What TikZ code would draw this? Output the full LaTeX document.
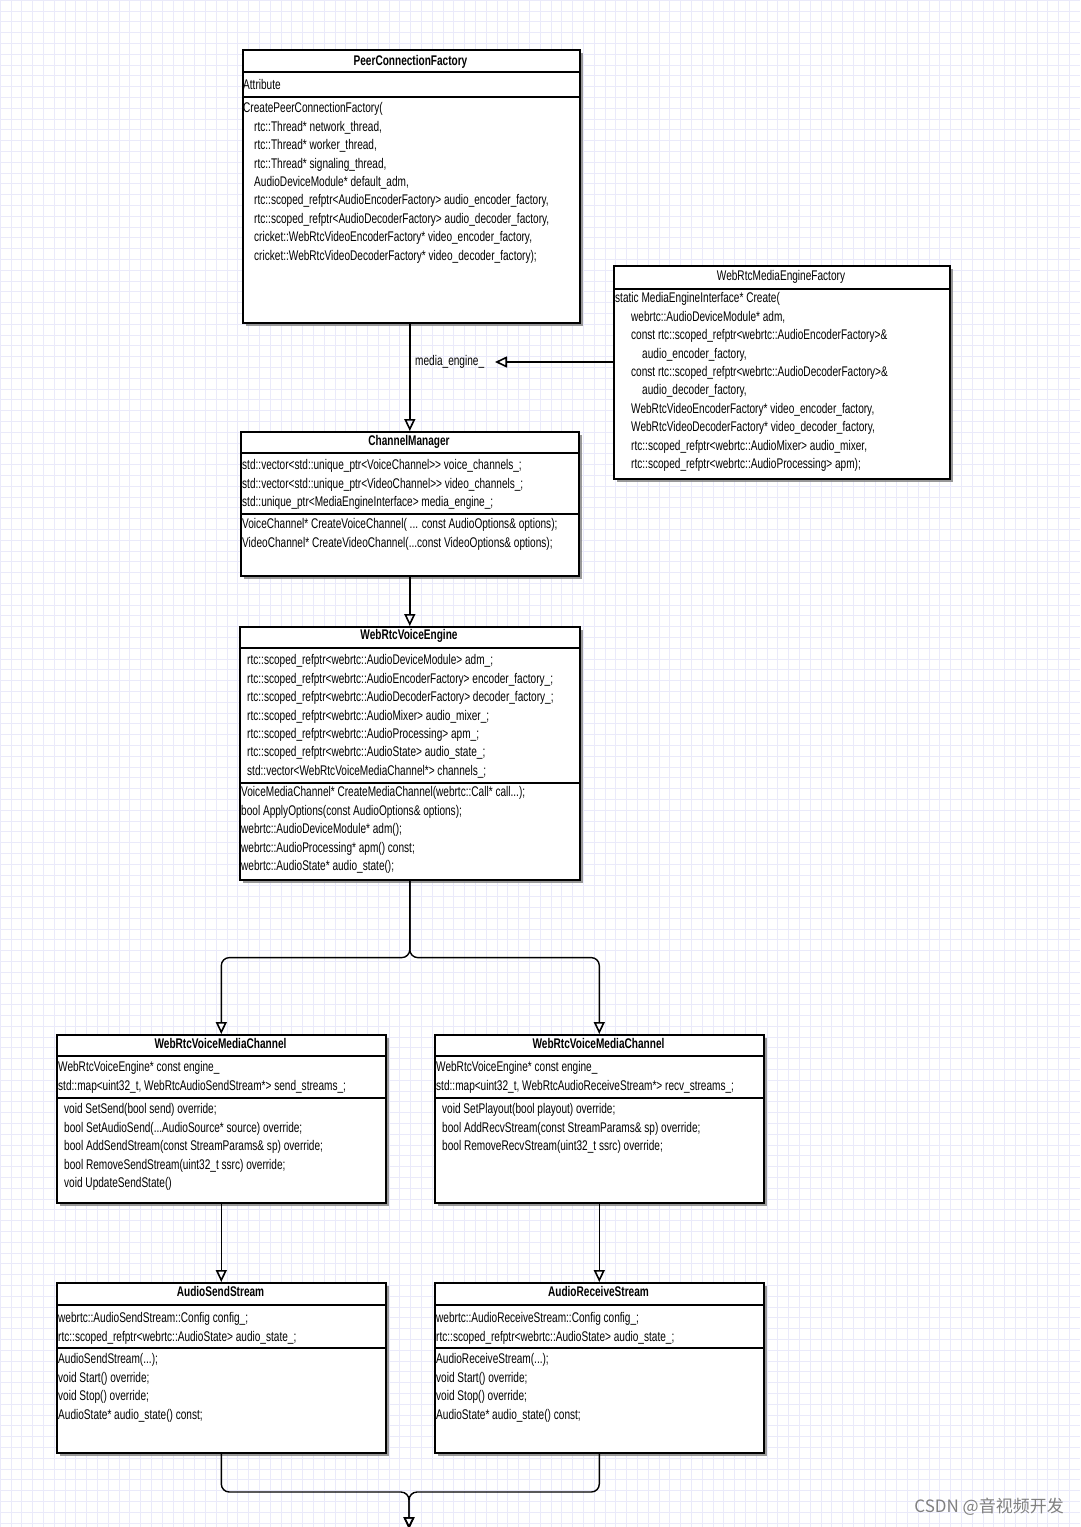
\documentclass[tikz,border=0pt]{standalone}
\usepackage{fontspec}
\newfontfamily\narrow[FakeStretch=0.72]{Liberation Sans}
\newfontfamily\cjk{Noto Sans CJK SC}
\usetikzlibrary{arrows.meta,shadows}
\newcommand\ind{\hspace*{11pt}}
\newcommand\indd{\hspace*{16pt}}
\newcommand\inddd{\hspace*{27pt}}
\definecolor{gridcol}{RGB}{234,234,250}

\tikzset{
  classbox/.style={draw, line width=1.6pt, fill=white, anchor=north west, inner sep=0pt,
    drop shadow={shadow xshift=3pt, shadow yshift=-3pt, fill=black!50, opacity=0.8}},
  classname/.style={font=\narrow\bfseries\fontsize{14}{18.45}\selectfont, anchor=base, inner sep=0pt},
  members/.style={font=\narrow\fontsize{14}{18.45}\selectfont, align=left, anchor=north west, inner sep=0pt},
  sepline/.style={line width=2pt},
  gridline/.style={draw=gridcol, line width=0.5pt},
  inherit/.style={line width=1.4pt, -{Triangle[open, length=12pt, width=11pt, line width=1.6pt]}},
}

\begin{document}
\begin{tikzpicture}[x=1pt,y=-1pt]
  \useasboundingbox (0,0) rectangle (1080,1527);
  % background grid
  \fill[white] (0,0) rectangle (1080,1527);
  \foreach \gx in {0,10.8,...,1080} \draw[gridline] (\gx,0) -- (\gx,1527);
  \foreach \gy in {0,10.8,...,1527} \draw[gridline] (0,\gy) -- (1080,\gy);

  % PeerConnectionFactory
  \node[classbox, minimum width=337pt, minimum height=273pt] (pcf) at (242,49) {};
  \node[classname] (pcft) at (410.5,65.5) {PeerConnectionFactory};
  \draw[sepline] (242,72) -- (579,72);
  \draw[sepline] (242,97) -- (579,97);
  \node[members] (pcfa) at (243,76.6) {\strut Attribute};
  \node[members] (pcfm) at (243,99.6) {\strut CreatePeerConnectionFactory(\\
    \ind rtc::Thread* network\_thread,\\
    \ind rtc::Thread* worker\_thread,\\
    \ind rtc::Thread* signaling\_thread,\\
    \ind AudioDeviceModule* default\_adm,\\
    \ind rtc::scoped\_refptr<AudioEncoderFactory> audio\_encoder\_factory,\\
    \ind rtc::scoped\_refptr<AudioDecoderFactory> audio\_decoder\_factory,\\
    \ind cricket::WebRtcVideoEncoderFactory* video\_encoder\_factory,\\
    \ind cricket::WebRtcVideoDecoderFactory* video\_decoder\_factory);};

  % WebRtcMediaEngineFactory
  \node[classbox, minimum width=336pt, minimum height=213pt] (wmef) at (613,265) {};
  \node[classname, font=\narrow\fontsize{14}{18.45}\selectfont] (wmeft) at (781,280.5) {WebRtcMediaEngineFactory};
  \draw[sepline] (613,289) -- (949,289);
  \node[members] (wmefm) at (615,289.6) {\strut static MediaEngineInterface* Create(\\
    \indd webrtc::AudioDeviceModule* adm,\\
    \indd const rtc::scoped\_refptr<webrtc::AudioEncoderFactory>\&\\
    \inddd audio\_encoder\_factory,\\
    \indd const rtc::scoped\_refptr<webrtc::AudioDecoderFactory>\&\\
    \inddd audio\_decoder\_factory,\\
    \indd WebRtcVideoEncoderFactory* video\_encoder\_factory,\\
    \indd WebRtcVideoDecoderFactory* video\_decoder\_factory,\\
    \indd rtc::scoped\_refptr<webrtc::AudioMixer> audio\_mixer,\\
    \indd rtc::scoped\_refptr<webrtc::AudioProcessing> apm);};

  % ChannelManager
  \node[classbox, minimum width=338pt, minimum height=144pt] (cm) at (240,431) {};
  \node[classname] (cmt) at (409,445.5) {ChannelManager};
  \draw[sepline] (240,453) -- (578,453);
  \draw[sepline] (240,514) -- (578,514);
  \node[members] (cma) at (242,456.6) {\strut std::vector<std::unique\_ptr<VoiceChannel>{}> voice\_channels\_;\\
    std::vector<std::unique\_ptr<VideoChannel>{}> video\_channels\_;\\
    std::unique\_ptr<MediaEngineInterface> media\_engine\_;};
  \node[members] (cmm) at (242,515.6) {\strut VoiceChannel* CreateVoiceChannel( ... const AudioOptions\& options);\\
    VideoChannel* CreateVideoChannel(...const VideoOptions\& options);};

  % WebRtcVoiceEngine
  \node[classbox, minimum width=340pt, minimum height=253pt] (wve) at (239,626) {};
  \node[classname] (wvet) at (409,639.5) {WebRtcVoiceEngine};
  \draw[sepline] (239,648) -- (579,648);
  \draw[sepline] (239,783) -- (579,783);
  \node[members] (wvea) at (247,651.6) {\strut rtc::scoped\_refptr<webrtc::AudioDeviceModule> adm\_;\\
    rtc::scoped\_refptr<webrtc::AudioEncoderFactory> encoder\_factory\_;\\
    rtc::scoped\_refptr<webrtc::AudioDecoderFactory> decoder\_factory\_;\\
    rtc::scoped\_refptr<webrtc::AudioMixer> audio\_mixer\_;\\
    rtc::scoped\_refptr<webrtc::AudioProcessing> apm\_;\\
    rtc::scoped\_refptr<webrtc::AudioState> audio\_state\_;\\
    std::vector<WebRtcVoiceMediaChannel*> channels\_;};
  \node[members] (wvem) at (241,783.6) {\strut VoiceMediaChannel* CreateMediaChannel(webrtc::Call* call...);\\
    bool ApplyOptions(const AudioOptions\& options);\\
    webrtc::AudioDeviceModule* adm();\\
    webrtc::AudioProcessing* apm() const;\\
    webrtc::AudioState* audio\_state();};

  % WebRtcVoiceMediaChannel (send)
  \node[classbox, minimum width=329pt, minimum height=168pt] (vmcs) at (56,1034) {};
  \node[classname] (vmcst) at (220.5,1048.5) {WebRtcVoiceMediaChannel};
  \draw[sepline] (56,1056) -- (385,1056);
  \draw[sepline] (56,1098) -- (385,1098);
  \node[members] (vmcsa) at (58,1058.6) {\strut WebRtcVoiceEngine* const engine\_\\
    std::map<uint32\_t, WebRtcAudioSendStream*> send\_streams\_;};
  \node[members] (vmcsm) at (64,1100.6) {\strut void SetSend(bool send) override;\\
    bool SetAudioSend(...AudioSource* source) override;\\
    bool AddSendStream(const StreamParams\& sp) override;\\
    bool RemoveSendStream(uint32\_t ssrc) override;\\
    void UpdateSendState()};

  % WebRtcVoiceMediaChannel (receive)
  \node[classbox, minimum width=329pt, minimum height=168pt] (vmcr) at (434,1034) {};
  \node[classname] (vmcrt) at (598.5,1048.5) {WebRtcVoiceMediaChannel};
  \draw[sepline] (434,1056) -- (763,1056);
  \draw[sepline] (434,1098) -- (763,1098);
  \node[members] (vmcra) at (436,1058.6) {\strut WebRtcVoiceEngine* const engine\_\\
    std::map<uint32\_t, WebRtcAudioReceiveStream*> recv\_streams\_;};
  \node[members] (vmcrm) at (442,1100.6) {\strut void SetPlayout(bool playout) override;\\
    bool AddRecvStream(const StreamParams\& sp) override;\\
    bool RemoveRecvStream(uint32\_t ssrc) override;};

  % AudioSendStream
  \node[classbox, minimum width=329pt, minimum height=170pt] (ass) at (56,1282) {};
  \node[classname] (asst) at (220.5,1296.5) {AudioSendStream};
  \draw[sepline] (56,1305) -- (385,1305);
  \draw[sepline] (56,1348) -- (385,1348);
  \node[members] (assa) at (58,1309.6) {\strut webrtc::AudioSendStream::Config config\_;\\
    rtc::scoped\_refptr<webrtc::AudioState> audio\_state\_;};
  \node[members] (assm) at (58,1350.6) {\strut AudioSendStream(...);\\
    void Start() override;\\
    void Stop() override;\\
    AudioState* audio\_state() const;};

  % AudioReceiveStream
  \node[classbox, minimum width=329pt, minimum height=170pt] (ars) at (434,1282) {};
  \node[classname] (arst) at (598.5,1296.5) {AudioReceiveStream};
  \draw[sepline] (434,1305) -- (763,1305);
  \draw[sepline] (434,1348) -- (763,1348);
  \node[members] (arsa) at (436,1309.6) {\strut webrtc::AudioReceiveStream::Config config\_;\\
    rtc::scoped\_refptr<webrtc::AudioState> audio\_state\_;};
  \node[members] (arsm) at (436,1350.6) {\strut AudioReceiveStream(...);\\
    void Start() override;\\
    void Stop() override;\\
    AudioState* audio\_state() const;};

  % connectors
  \node[members, anchor=west] (lbl) at (415,362) {media\_engine\_};
  \coordinate (tip) at (495,362);
  \coordinate (merge) at (409,1492);
  \coordinate (out) at (409,1529);
  \draw[inherit] (pcf.south -| cm.north) -- (cm.north);
  \draw[inherit] (wmef.west |- tip) -- (tip);
  \draw[inherit] (cm.south) -- (cm.south |- wve.north);
  \draw[inherit, rounded corners=8pt] (wve.south) -- ++(0,77) -| (vmcs.north);
  \draw[inherit, rounded corners=8pt] (wve.south) -- ++(0,77) -| (vmcr.north);
  \draw[inherit] (vmcs.south) -- (ass.north);
  \draw[inherit] (vmcr.south) -- (ars.north);
  \draw[inherit, rounded corners=8pt] (ass.south) |- (merge) -- (out);
  \draw[inherit, rounded corners=8pt] (ars.south) |- (merge) -- (out);

  % watermark
  \node[anchor=east, inner sep=0pt, text=black!50, font=\cjk\fontsize{17}{20}\selectfont] (wm) at (1064,1507) {CSDN @音视频开发};
\end{tikzpicture}
\end{document}
